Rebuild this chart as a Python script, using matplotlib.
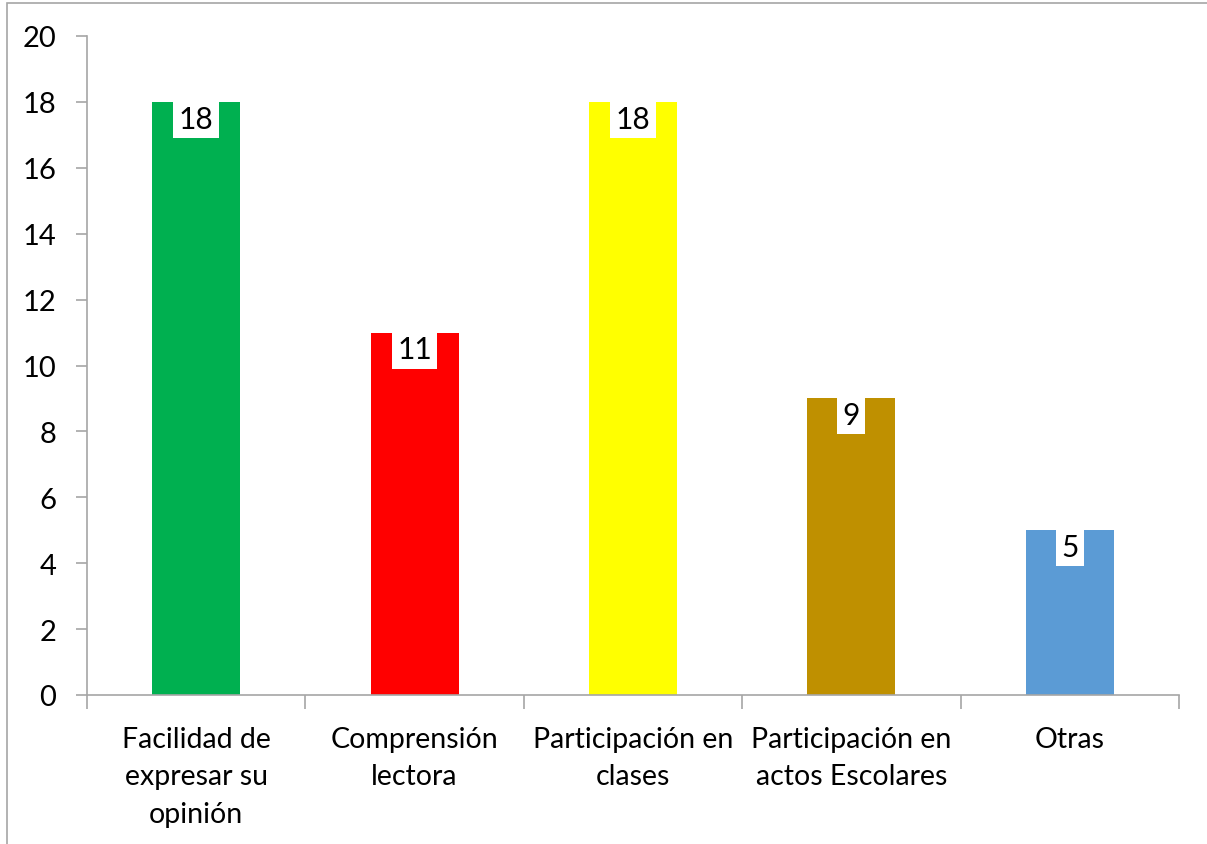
import matplotlib
matplotlib.use("Agg")
import matplotlib.pyplot as plt
from matplotlib.patches import Rectangle

categories = ["Facilidad de\nexpresar su\nopinión", "Comprensión\nlectora",
              "Participación en\nclases", "Participación en\nactos Escolares", "Otras"]
values = [18, 11, 18, 9, 5]
colors = ["#00B050", "#FF0000", "#FFFF00", "#BF9000", "#5B9BD5"]
yticks = [0, 2, 4, 6, 8, 10, 12, 14, 16, 18, 20]

plt.rcParams['font.family'] = ['Lato', 'DejaVu Sans']

fig = plt.figure(figsize=(12.07, 8.45), dpi=100)
fig.patches.append(Rectangle((7/1207, -0.01), 1.0, (845-4)/845 + 0.01, transform=fig.transFigure,
                             fill=False, edgecolor="#A6A6A6", linewidth=1.2))
ax = fig.add_axes([87/1207, (845-696)/845, (1179-87)/1207, (696-37)/845])

x = list(range(len(values)))
ax.bar(x, values, width=0.403, color=colors, zorder=2)
for xi, v in zip(x, values):
    ax.text(xi, v - 0.08, str(v), ha="center", va="top", fontsize=21.5, color="black",
            bbox=dict(boxstyle="square,pad=0.18", facecolor="white", edgecolor="none"), zorder=3)

ax.set_xlim(-0.5, len(values) - 0.5)
ax.set_ylim(0, 20)
ax.set_yticks(yticks)
ax.set_yticklabels([str(t) for t in yticks], fontsize=21)
ax.set_xticks([i - 0.5 for i in range(len(values) + 1)], minor=False)
ax.set_xticklabels([])
ax.set_xticks(x, minor=True)
ax.set_xticklabels(categories, minor=True, fontsize=20.5, linespacing=1.55)
ax.tick_params(axis="x", which="minor", length=0, pad=22)
ax.tick_params(axis="x", which="major", length=10, color="#A6A6A6", width=1.2)
ax.tick_params(axis="y", length=8, color="#A6A6A6", width=1.2, pad=14)
for s in ["top", "right"]:
    ax.spines[s].set_visible(False)
for s in ["left", "bottom"]:
    ax.spines[s].set_color("#A6A6A6")
    ax.spines[s].set_linewidth(1.2)

fig.savefig("out.png", dpi=100)
